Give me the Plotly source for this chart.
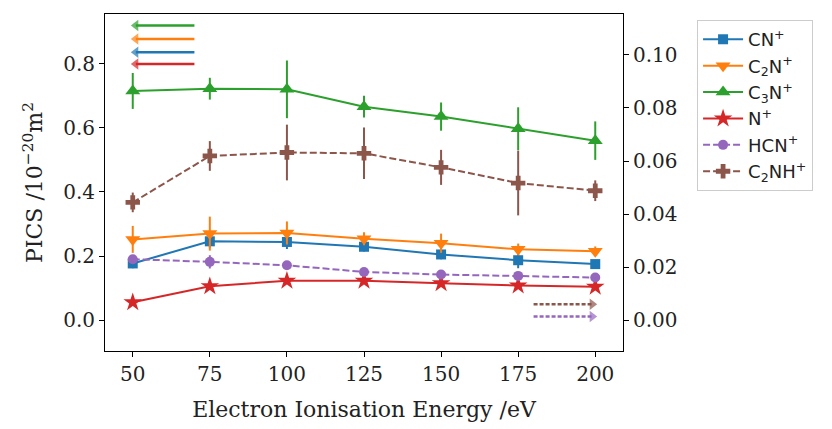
import plotly.graph_objects as go

energy = [50, 75, 100, 125, 150, 175, 200]

cn = [0.177, 0.246, 0.244, 0.229, 0.205, 0.187, 0.175]
cn_err = [0.015, 0.02, 0.022, 0.015, 0.015, 0.025, 0.012]
c2n = [0.252, 0.27, 0.272, 0.254, 0.24, 0.221, 0.215]
c2n_err = [0.042, 0.053, 0.036, 0.02, 0.03, 0.018, 0.015]
c3n = [0.715, 0.722, 0.72, 0.666, 0.635, 0.597, 0.56]
c3n_err = [0.056, 0.034, 0.09, 0.034, 0.044, 0.067, 0.06]
n = [0.056, 0.106, 0.123, 0.123, 0.115, 0.108, 0.104]
n_err = [0.006, 0.006, 0.008, 0.006, 0.006, 0.006, 0.006]
# right axis series
hcn = [0.023, 0.022, 0.0207, 0.0182, 0.0172, 0.0167, 0.0161]
hcn_err = [0.0015, 0.0025, 0.0015, 0.001, 0.001, 0.001, 0.001]
c2nh = [0.0444, 0.0619, 0.0632, 0.0629, 0.0576, 0.0517, 0.0488]
c2nh_err = [0.0037, 0.0056, 0.0105, 0.0097, 0.0066, 0.0122, 0.0039]

# axis indicator arrows
left_arrow_y = [0.919, 0.877, 0.836, 0.799]  # C3N, C2N, CN, N
left_arrow_x = [70, 51]
right_arrow_y = [0.006, 0.0014]  # C2NH, HCN
right_arrow_x = [180, 199]

blue, orange, green, red, purple, brown = "#1f77b4", "#ff7f0e", "#2ca02c", "#d62728", "#9467bd", "#8c564b"

fig = go.Figure()

def add(y, err, name, color, symbol, size, dash="solid", axis="y"):
    fig.add_trace(go.Scatter(
        x=energy, y=y, name=name, yaxis=axis, mode="lines+markers",
        line=dict(color=color, width=2, dash=dash),
        marker=dict(symbol=symbol, size=size, color=color, line=dict(width=0)),
        error_y=dict(type="data", array=err, visible=True, color=color, thickness=2, width=0),
    ))

add(cn, cn_err, "CN<sup>+</sup>", blue, "square", 10)
add(c2n, c2n_err, "C<sub>2</sub>N<sup>+</sup>", orange, "triangle-down", 13)
add(c3n, c3n_err, "C<sub>3</sub>N<sup>+</sup>", green, "triangle-up", 13)
add(n, n_err, "N<sup>+</sup>", red, "star", 14)
add(hcn, hcn_err, "HCN<sup>+</sup>", purple, "circle", 10, dash="7px,3px", axis="y2")
add(c2nh, c2nh_err, "C<sub>2</sub>NH<sup>+</sup>", brown, "cross", 12, dash="7px,3px", axis="y2")

for yv, col in zip(left_arrow_y, [green, orange, blue, red]):
    fig.add_trace(go.Scatter(
        x=left_arrow_x, y=[yv, yv], mode="lines+markers", showlegend=False, hoverinfo="skip",
        line=dict(color=col, width=2.5),
        marker=dict(symbol="triangle-left", size=[0, 10], color=col, line=dict(width=0)),
    ))
for yv, col in zip(right_arrow_y, [brown, purple]):
    fig.add_trace(go.Scatter(
        x=right_arrow_x, y=[yv, yv], yaxis="y2", mode="lines+markers", showlegend=False, hoverinfo="skip",
        line=dict(color=col, width=2.5, dash="4px,2px"),
        marker=dict(symbol="triangle-right", size=[0, 10], color=col, line=dict(width=0)),
    ))

serif = "DejaVu Serif"
axis_common = dict(showline=True, linecolor="black", linewidth=1, ticks="outside",
                   ticklen=5, tickcolor="black", showgrid=False, zeroline=False,
                   tickfont=dict(family=serif, size=20, color="#222"))

fig.update_layout(
    width=832, height=429,
    margin=dict(l=105, r=209, t=14, b=76),
    paper_bgcolor="white", plot_bgcolor="white",
    xaxis=dict(range=[41, 209], tickvals=energy, mirror=True,
               title=dict(text="Electron Ionisation Energy /eV", font=dict(family=serif, size=22, color="#222"), standoff=16),
               **axis_common),
    yaxis=dict(range=[-0.0961, 0.955], tickvals=[0, 0.2, 0.4, 0.6, 0.8], tickformat=".1f", mirror=True,
               title=dict(text="PICS /10<sup>−20</sup>m<sup>2</sup>", font=dict(family=serif, size=22, color="#222"), standoff=14),
               **axis_common),
    yaxis2=dict(range=[-0.0116, 0.1154], tickvals=[0, 0.02, 0.04, 0.06, 0.08, 0.10], tickformat=".2f",
                overlaying="y", side="right", **axis_common),
    legend=dict(x=1.143, y=0.982, xanchor="left", yanchor="top",
                bordercolor="#cccccc", borderwidth=1, bgcolor="white", itemwidth=40,
                font=dict(family="DejaVu Sans", size=18, color="#222"), tracegroupgap=0),
    showlegend=True,
)

fig.write_html("out.html")
